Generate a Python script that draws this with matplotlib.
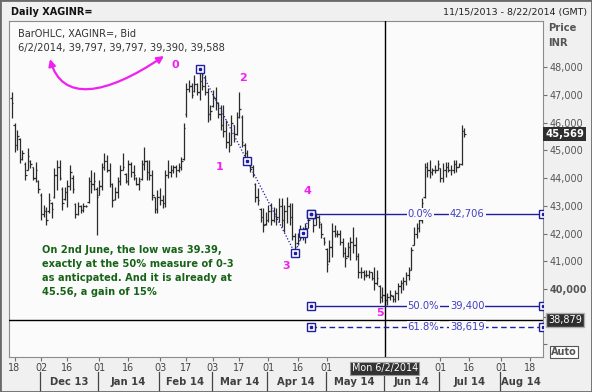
import numpy as np
import pandas as pd
import matplotlib
matplotlib.use("Agg")
import matplotlib.pyplot as plt
import matplotlib.transforms as mtransforms
from matplotlib.collections import LineCollection
from matplotlib.patches import FancyArrowPatch, Rectangle
from matplotlib.path import Path

plt.rcParams["font.family"] = ["DejaVu Sans"]

# ---- data (daily bid bars, XAGINR=) ----
start_date = "2013-11-15"
end_date = "2014-08-22"

open_ = [46900, 45900, 45200, 45400, 44700, 44500, 44300, 44600, 44400, 44000,
         43900, 43400, 42700, 42800, 42800, 43100, 43300, 44100, 44400, 43600,
         43250, 43500, 43700, 44000, 43050, 42700, 43000, 42850, 43000, 43150,
         43900, 43800, 43600, 43400, 43700, 44400, 44600, 44300, 43800, 43250,
         43500, 43900, 44300, 44150, 43900, 44500, 44200, 44000, 43800, 43950,
         44500, 44600, 44200, 44100, 43300, 42900, 43300, 43200, 43100, 44100,
         44200, 44300, 44400, 44300, 44400, 44700, 46300, 47200, 47300, 47150,
         47400, 47100, 47500, 47300, 47100, 46300, 46600, 46900, 46700, 46300,
         45900, 45700, 45300, 45200, 45900, 45600, 46200, 46200, 45200, 44900,
         44600, 44400, 43800, 43300, 42900, 42600, 42350, 42500, 42800, 42500,
         42700, 42600, 43000, 42500, 42800, 43000, 42600, 41900, 41650, 41900,
         42100, 42000, 42200, 42600, 42650, 42300, 42600, 42350, 41850, 41450,
         41000, 41500, 42100, 42000, 42000, 41700, 41300, 41200, 41500, 41700,
         41600, 41200, 40600, 40600, 40500, 40500, 40600, 40400, 40200, 40100,
         39700, 39797, 39588, 39700, 39750, 39650, 39850, 40100, 40200, 40300,
         40500, 40700, 41600, 42000, 42200, 42500, 43300, 44400, 44300, 44200,
         44300, 44300, 44350, 44000, 44300, 44400, 44300, 44300, 44500, 44400,
         44500, 45700]

high = [47100, 45980, 45730, 45440, 45010, 44580, 45080, 44650, 44400, 44580,
        43930, 43460, 43030, 42960, 43460, 43140, 44360, 44650, 44650, 43680,
        43680, 43930, 44470, 44110, 43100, 43140, 43030, 43100, 43030, 44040,
        44290, 44220, 43680, 43930, 44540, 44900, 44830, 44540, 43820, 43680,
        44040, 44470, 44900, 44180, 44650, 44580, 44470, 44040, 44040, 44650,
        45120, 44650, 44650, 44290, 43320, 43570, 43640, 43390, 44290, 44650,
        44470, 44470, 44470, 44540, 44760, 45980, 47420, 47530, 47420, 47710,
        47420, 47930, 47780, 47710, 47240, 46630, 47170, 47280, 46740, 46630,
        46630, 46090, 45660, 46270, 45910, 46380, 47100, 46270, 45260, 45010,
        44650, 44470, 43820, 43640, 42920, 42920, 42780, 43030, 43100, 42960,
        42920, 43280, 43280, 43030, 43320, 43100, 43100, 42020, 42020, 42310,
        42230, 42380, 42590, 42780, 42670, 42740, 42670, 42380, 41870, 41480,
        41770, 42380, 42310, 42130, 42130, 41840, 41510, 41690, 41870, 42230,
        41870, 41300, 40790, 40680, 40680, 40680, 40610, 40790, 40680, 40140,
        40070, 39797, 39860, 39960, 39780, 39960, 40220, 40320, 40430, 40610,
        40790, 41510, 42230, 42380, 42590, 43280, 44540, 44580, 44650, 44360,
        44470, 44650, 44360, 44540, 44580, 44580, 44470, 44650, 44650, 44540,
        45910, 45800]

low = [46160, 44940, 45010, 44540, 44650, 43930, 44290, 44360, 43930, 43860,
       43460, 42490, 42590, 42310, 42740, 42560, 43280, 43570, 43930, 42850,
       43210, 42960, 43570, 43460, 42560, 42670, 42740, 42780, 42960, 43100,
       43460, 43570, 41950, 43390, 43570, 44290, 44220, 43680, 42960, 43210,
       43280, 43750, 44290, 43820, 43750, 44040, 43930, 43750, 43570, 43930,
       44290, 43930, 43930, 43210, 42740, 42740, 43030, 42920, 42960, 44000,
       44040, 44180, 44040, 44220, 44290, 44650, 46200, 47100, 46880, 47100,
       46990, 46810, 47170, 46990, 46020, 46090, 46560, 46450, 46160, 45730,
       45480, 45080, 44940, 45190, 45300, 45550, 46160, 45120, 44760, 44470,
       44220, 44040, 43140, 43030, 42410, 42050, 42310, 42410, 42310, 42410,
       42310, 42410, 42230, 42050, 42380, 42310, 41770, 41297, 41590, 41770,
       41770, 41660, 42200, 42590, 42050, 42310, 42200, 41840, 41590, 40610,
       40970, 41150, 41870, 41870, 41590, 41150, 40790, 41150, 41050, 41300,
       41050, 40400, 40400, 40320, 40430, 40400, 40320, 39960, 40140, 39500,
       39530, 39390, 39420, 39600, 39530, 39530, 39600, 39860, 39960, 40140,
       40320, 40690, 41590, 41840, 42050, 42380, 43280, 44040, 44000, 44110,
       44180, 44290, 43860, 43860, 44040, 44220, 44110, 44180, 44220, 44400,
       44470, 45480]

close = [46700, 45200, 45500, 44700, 44900, 44100, 44800, 44500, 44000, 44300,
         43600, 42700, 42800, 42500, 43200, 42900, 44100, 44400, 44000, 43100,
         43500, 43700, 44200, 43600, 42700, 43000, 42850, 43000, 43000, 43900,
         43800, 43900, 43300, 43700, 44400, 44600, 44300, 43800, 43200, 43500,
         43900, 44300, 44400, 43900, 44500, 44200, 44100, 43800, 43900, 44500,
         44600, 44200, 44100, 43400, 42900, 43300, 43200, 43100, 44100, 44200,
         44300, 44400, 44300, 44400, 44600, 45800, 47200, 47300, 47000, 47400,
         47100, 47500, 47300, 47100, 46300, 46400, 46900, 46700, 46300, 45900,
         45700, 45300, 45200, 46000, 45600, 46200, 46500, 45300, 44900, 44600,
         44400, 44100, 43300, 43200, 42600, 42300, 42500, 42800, 42500, 42700,
         42600, 43000, 42500, 42800, 43000, 42600, 41900, 41500, 41900, 42100,
         42000, 42200, 42500, 42706, 42300, 42600, 42400, 42000, 41700, 40900,
         41500, 42100, 42000, 42000, 41700, 41300, 41100, 41500, 41700, 41600,
         41200, 40600, 40600, 40500, 40500, 40600, 40400, 40200, 40400, 39700,
         39797, 39588, 39700, 39800, 39650, 39850, 40100, 40200, 40300, 40500,
         40700, 41400, 42000, 42200, 42500, 43100, 44400, 44300, 44200, 44300,
         44300, 44500, 44000, 44300, 44400, 44300, 44300, 44500, 44400, 44500,
         45700, 45569]

# wave points 0, 3, 4 (bar index, price)
wave_idx = [71, 107, 113]
wave_price = [47930, 41297, 42706]
wave_names = ["0", "1", "2", "3", "4", "5"]
wave_label_idx = [61.7, 78.7, 87.4, 103.6, 111.9, 139.2]
wave_label_price = [48070, 44400, 47600, 40830, 43530, 39140]

fib_pct = ["0.0%", "50.0%", "61.8%"]
fib_price = [42706, 39400, 38619]
fib_style = ["-", "-", "--"]

cross_date = "2014-06-02"
cross_price = 38879
last_price = 45569

tick_dates = ["2013-11-18", "2013-12-02", "2013-12-16", "2014-01-01", "2014-01-16",
              "2014-02-03", "2014-02-17", "2014-03-03", "2014-03-17", "2014-04-01",
              "2014-04-16", "2014-05-01", "2014-07-01", "2014-07-16", "2014-08-01",
              "2014-08-18"]
month_names = ["Dec 13", "Jan 14", "Feb 14", "Mar 14", "Apr 14", "May 14",
               "Jun 14", "Jul 14", "Aug 14"]
month_starts = ["2013-12-02", "2014-01-01", "2014-02-03", "2014-03-03", "2014-04-01",
                "2014-05-01", "2014-06-02", "2014-07-01", "2014-08-01"]

note = ("On 2nd June, the low was 39.39,\n"
        "exactly at the 50% measure of 0-3\n"
        "as anticpated. And it is already at\n"
        "45.56, a gain of 15%")

# ---- colours ----
BG = "#f0f0f0"
PLOT_BG = "#fbfbfb"
BAR = "#2b2b2b"
NAVY = "#1e1e9e"
FIBTXT = "#4040c4"
MAGENTA = "#f020f0"
GREEN = "#176317"

days = pd.bdate_range(start_date, end_date)
n = len(close)
xs = np.arange(n)

W, H = 592, 392
fig = plt.figure(figsize=(W / 100, H / 100), dpi=100, facecolor=BG)

def fx(px):
    return px / W

def fy(py):
    return 1 - py / H

ax = fig.add_axes([fx(9), fy(357), fx(534), 336 / H])
ax.set_facecolor(PLOT_BG)
x_lo, x_hi = -1.1, 200.8
ax.set_xlim(x_lo, x_hi)
ax.set_ylim(37549, 49659)
for s in ax.spines.values():
    s.set_color("#8c8c8c")
    s.set_linewidth(0.8)

# OHLC bars
segs = []
for i in range(n):
    segs.append([(xs[i], low[i]), (xs[i], high[i])])
    segs.append([(xs[i] - 0.55, open_[i]), (xs[i], open_[i])])
    segs.append([(xs[i], close[i]), (xs[i] + 0.55, close[i])])
ax.add_collection(LineCollection(segs, colors=BAR, linewidths=0.9, zorder=3))

# crosshair
ci = days.get_loc(pd.Timestamp(cross_date))
ax.axvline(ci, color="black", lw=1, zorder=4)
ax.axhline(cross_price, color="black", lw=1, zorder=4)

# wave lines with midpoint handles
for k in range(len(wave_idx) - 1):
    xa, xb = wave_idx[k], wave_idx[k + 1]
    ya, yb = wave_price[k], wave_price[k + 1]
    ax.plot([xa, xb], [ya, yb], ls=(0, (1, 1.5)), color=NAVY, lw=0.9, zorder=5)
    mx, my = (xa + xb) / 2, (ya + yb) / 2
    ax.plot(mx, my, "s", ms=5.5, mfc="white", mec=NAVY, mew=1, zorder=6)
    ax.plot(mx, my, "s", ms=1.8, color=NAVY, zorder=7)
ax.plot(wave_idx, wave_price, "s", ms=5.5, mfc="white", mec=NAVY, mew=1, ls="none", zorder=6)
ax.plot(wave_idx, wave_price, "s", ms=1.8, color=NAVY, ls="none", zorder=7)

# fibonacci levels
fx0 = wave_idx[2]
for pct, lvl, st in zip(fib_pct, fib_price, fib_style):
    ax.plot([fx0, x_hi], [lvl, lvl], ls=st, color=NAVY, lw=1, zorder=5,
            dashes=(4, 2.5) if st == "--" else (None, None))
    ax.plot([fx0, x_hi], [lvl, lvl], "s", ms=5.5, mfc="white", mec=NAVY, mew=1,
            ls="none", zorder=6)
    ax.plot([fx0, x_hi], [lvl, lvl], "s", ms=1.8, color=NAVY, ls="none", zorder=7)
    box = dict(boxstyle="square,pad=0.1", fc=PLOT_BG, ec="none")
    ax.text(149.6, lvl, pct, color=FIBTXT, fontsize=7.2, ha="left", va="center",
            bbox=box, zorder=8)
    ax.text(165.6, lvl, f"{lvl:,}", color=FIBTXT, fontsize=7.2, ha="left",
            va="center", bbox=box, zorder=8)

# wave labels
for name, wi, wp in zip(wave_names, wave_label_idx, wave_label_price):
    ax.text(wi, wp, name, color=MAGENTA, fontsize=8, fontweight="bold",
            ha="center", va="center", zorder=8)

# y axis on right
yt = list(range(38000, 49000, 1000))
ylab = ["" if v < 40000 else f"{v:,}" for v in yt]
ax.yaxis.tick_right()
ax.set_yticks(yt, ylab)
ax.tick_params(axis="y", direction="out", length=3, width=0.8, color="#707070",
               pad=1.5, labelsize=6.9, labelcolor="#555555")
for t in ax.get_yticklabels():
    if t.get_text() == "40,000":
        t.set_fontweight("bold")

# x axis: day numbers
tpos = [days.get_loc(pd.Timestamp(d)) for d in tick_dates]
tlab = [pd.Timestamp(d).strftime("%d") for d in tick_dates]
ax.set_xticks(tpos, tlab)
ax.tick_params(axis="x", direction="out", length=3, width=0.8, color="#707070",
               pad=1.5, labelsize=6.9, labelcolor="#444444")

xt = ax.get_xaxis_transform()
yd = mtransforms.blended_transform_factory(ax.transAxes, ax.transData)
for k, (m, ms) in enumerate(zip(month_names, month_starts)):
    p0 = days.get_loc(pd.Timestamp(ms))
    if k + 1 < len(month_starts):
        p1 = days.get_loc(pd.Timestamp(month_starts[k + 1])) - 1
    else:
        p1 = len(days) - 1
    ax.plot([p0 - 0.4, p0 - 0.4], [-0.045, -0.11], color="#444444", lw=0.9,
            transform=xt, clip_on=False)
    cx = (p0 + min(p1, x_hi)) / 2
    ax.text(cx, -0.074, m, transform=xt, ha="center", va="center", fontsize=7.2,
            fontweight="bold", color="#404040")

ax.text(ci, -0.033, pd.Timestamp(cross_date).strftime("Mon %-m/%-d/%Y"),
        transform=xt, ha="center", va="center", fontsize=6.9, color="white",
        bbox=dict(boxstyle="square,pad=0.15", fc="#333333", ec="#9a9a9a", lw=0.8),
        zorder=9, clip_on=False)

# right side price boxes
ax.text(1.0 + 2 / 534, last_price, f"{last_price:,}", transform=yd, ha="left",
        va="center", fontsize=7.2, fontweight="bold", color="white",
        bbox=dict(boxstyle="square,pad=0.2", fc="#2e2e2e", ec="none"),
        clip_on=False, zorder=9)
ax.text(1.0 + 5 / 534, cross_price, f"{cross_price:,}", transform=yd, ha="left",
        va="center", fontsize=7.0, color="white",
        bbox=dict(boxstyle="square,pad=0.2", fc="#2e2e2e", ec="#b0b0b0", lw=1),
        clip_on=False, zorder=9)

# header and annotations
fig.text(fx(11), fy(12), "Daily XAGINR=", fontsize=7.0, fontweight="bold",
         color="#111111", ha="left", va="center")
fig.text(fx(587), fy(12), "11/15/2013 - 8/22/2014 (GMT)", fontsize=6.8,
         color="#222222", ha="right", va="center")
fig.text(fx(548), fy(28), "Price", fontsize=7.2, fontweight="bold",
         color="#555555", ha="left", va="center")
fig.text(fx(548), fy(43), "INR", fontsize=7.2, fontweight="bold",
         color="#555555", ha="left", va="center")
fig.text(fx(564), fy(352), "Auto", fontsize=7, fontweight="bold", color="#555555",
         ha="center", va="center",
         bbox=dict(boxstyle="square,pad=0.15", fc="white", ec="#555555", lw=0.8))
fig.text(fx(18), fy(34), "BarOHLC, XAGINR=, Bid", fontsize=7, color="#333333",
         ha="left", va="center")
fig.text(fx(18), fy(48), "6/2/2014, 39,797, 39,797, 39,390, 39,588", fontsize=7.1,
         color="#333333", ha="left", va="center")
fig.text(fx(42), fy(245), note, fontsize=7.1, fontweight="bold", color=GREEN,
         ha="left", va="top", linespacing=1.5)

# magenta double arrow drawn in pixel space
ov = fig.add_axes([0, 0, 1, 1])
ov.set_xlim(0, W)
ov.set_ylim(H, 0)
ov.axis("off")
ov.patch.set_alpha(0)
curve = Path([(50, 59), (62, 102), (105, 96), (164, 56)],
             [Path.MOVETO, Path.CURVE4, Path.CURVE4, Path.CURVE4])
ov.add_patch(FancyArrowPatch(path=curve, arrowstyle="<|-|>,head_length=4,head_width=2",
                             color=MAGENTA, lw=1.6, transform=ov.transData))

fig.patches.append(Rectangle((0, 0), 1, 1, transform=fig.transFigure, fill=False,
                             ec="#6a6a6a", lw=2))

fig.savefig("out.png", dpi=100, facecolor=BG)
